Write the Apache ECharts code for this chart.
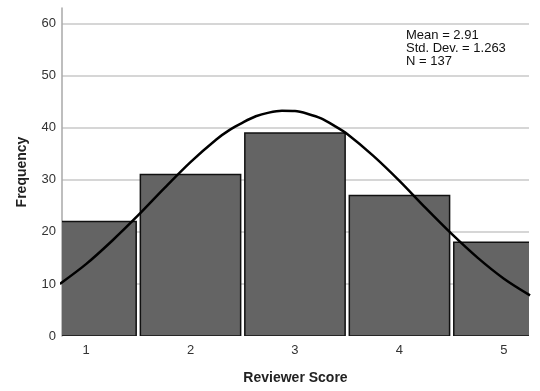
<!DOCTYPE html>
<html><head><meta charset="utf-8">
<script src="https://cdn.jsdelivr.net/npm/echarts@6/dist/echarts.min.js"></script>
<style>html,body{margin:0;padding:0;background:#fff}#c{width:540px;height:391px}</style>
</head><body><div id="c"></div>
<script>
// Histogram bins (Reviewer Score) and frequencies
const scores = [1, 2, 3, 4, 5];
const frequencies = [22, 31, 39, 27, 18];
// Normal curve (x = score, y = frequency)
const curveX = [0.75, 1.0, 1.25, 1.5, 1.75, 2.0, 2.25, 2.375, 2.5, 2.625, 2.75, 2.875, 3.0, 3.125, 3.25, 3.375, 3.5, 3.75, 4.0, 4.25, 4.5, 4.75, 5.0, 5.25];
const curveY = [10.0, 13.8, 18.3, 23.2, 28.4, 33.4, 37.8, 39.6, 41.0, 42.2, 42.9, 43.25, 43.2, 42.65, 41.8, 40.4, 38.8, 34.6, 29.8, 24.6, 19.6, 15.0, 11.0, 7.8];
const yTicks = [0, 10, 20, 30, 40, 50, 60];
const statsText = ['Mean = 2.91', 'Std. Dev. = 1.263', 'N = 137'];

const chart = echarts.init(document.getElementById('c'), null, {renderer: 'canvas'});
const font = 'Arial, "Liberation Sans", sans-serif';
chart.setOption({
  animation: false,
  grid: {left: 62, right: 11, top: 8, bottom: 55, outerBoundsMode: 'none', containLabel: false},
  xAxis: {
    type: 'value', min: 0.77, max: 5.24,
    name: 'Reviewer Score', nameLocation: 'middle', nameGap: 35,
    nameTextStyle: {fontFamily: font, fontSize: 14, fontWeight: 'bold', color: '#222'},
    axisLine: {show: false}, axisTick: {show: false}, splitLine: {show: false},
    axisLabel: {customValues: scores, fontFamily: font, fontSize: 13, color: '#333', margin: 8}
  },
  yAxis: {
    type: 'value', min: 0, max: 63, interval: 10,
    name: 'Frequency', nameLocation: 'middle', nameGap: 33, nameRotate: 90,
    nameTextStyle: {fontFamily: font, fontSize: 14, fontWeight: 'bold', color: '#222'},
    axisLine: {show: true, lineStyle: {color: '#a8a8a8', width: 1.5}},
    axisTick: {show: false},
    splitLine: {show: true, showMaxLine: false, showMinLine: false, lineStyle: {color: '#c8c8c8', width: 1.5}},
    axisLabel: {customValues: yTicks, fontFamily: font, fontSize: 13, color: '#333', margin: 6}
  },
  series: [{
    type: 'custom',
    clip: true,
    data: scores.map((s, i) => [s, frequencies[i]]),
    renderItem: function (params, api) {
      const base = api.coord([api.value(0), 0]);
      const top = api.coord([api.value(0), api.value(1)]);
      const w = api.size([0.96, 0])[0];
      return {
        type: 'rect',
        shape: {x: base[0] - w / 2, y: top[1], width: w, height: base[1] - top[1]},
        style: {fill: '#646464', stroke: '#111', lineWidth: 1.5}
      };
    },
    z: 2
  }, {
    type: 'line',
    data: curveX.map((x, i) => [x, curveY[i]]),
    smooth: 0.3, showSymbol: false, symbol: 'none', clip: true,
    lineStyle: {color: '#000', width: 2.5},
    z: 3
  }],
  graphic: [{
    type: 'text', left: 406, top: 29,
    style: {text: statsText.join('\n'), font: '13px ' + font, fill: '#111', lineHeight: 13}
  }]
});
</script></body></html>
